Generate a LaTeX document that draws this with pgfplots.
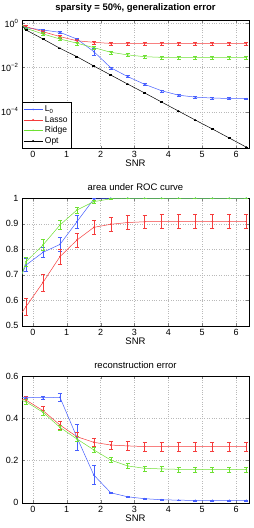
\documentclass[border=0pt]{standalone}
\usepackage{fontspec}
\setmainfont{Liberation Sans}
\usepackage{pgfplots}
\pgfplotsset{compat=1.18}
\definecolor{cBlue}{RGB}{70,95,255}
\definecolor{cRed}{RGB}{245,60,60}
\definecolor{cGreen}{RGB}{110,225,50}
\pgfplotsset{
  every axis/.append style={
    scale only axis, width=227pt,
    font=\fontsize{9.5}{11}\selectfont,
    tick label style={font=\fontsize{9}{10}\selectfont},
    xmin=-0.32, xmax=6.38,
    xtick={0,1,2,3,4,5,6},
    grid=major, major grid style={dotted, gray!55},
    tick align=inside, major tick length=2.5pt,
    /pgf/number format/assume math mode=true,
    xlabel={SNR},
    xlabel style={yshift=5pt},
    title style={yshift=-2pt},
    clip=true,
  },
  myplot/.style={mark=*, mark size=0.55pt, line width=0.5pt,
    error bars/y dir=both,
    error bars/error bar style={line width=0.5pt},
    error bars/error mark options={rotate=90, mark size=2pt, line width=0.5pt}},
}
\begin{document}
\begin{tikzpicture}
\useasboundingbox (0pt,0pt) rectangle (254pt,-528pt);
% ---------- panel 1 ----------
\begin{axis}[at={(22pt,-20pt)}, anchor=north west, height=128pt,
  ymode=log, ymin=2.29e-6, ymax=1.41,
  ytick={1,1e-2,1e-4}, yticklabels={10\textsuperscript{0},10\textsuperscript{−2},10\textsuperscript{−4}},
  minor ytick={},
  title={\bfseries sparsity = 50\%, generalization error},
  legend style={at={(0,0)}, anchor=south west, draw=black, inner sep=1.2pt, row sep=-1pt,
    font=\fontsize{8.5}{10}\selectfont},
  legend image code/.code={\draw[#1, mark repeat=2, mark phase=2] plot coordinates {(0pt,0pt) (9.5pt,0pt) (19pt,0pt)};},
  legend cell align=left,
  error bars/y explicit relative]
\addplot[myplot, cBlue] coordinates {
(-0.7,2.0) +- (0,0.05) (-0.2,0.63) +- (0,0.06) (0.3,0.50) +- (0,0.08) (0.8,0.39) +- (0,0.08)
(1.3,0.195) +- (0,0.1) (1.8,0.0525) +- (0,0.35) (2.3,0.00977) +- (0,0.1) (2.8,0.00389) +- (0,0.1)
(3.3,0.00174) +- (0,0.1) (3.8,8.91e-4) +- (0,0.1) (4.3,5.62e-4) +- (0,0.1) (4.8,4.57e-4) +- (0,0.1)
(5.3,4.17e-4) +- (0,0.1) (5.8,3.98e-4) +- (0,0.1) (6.3,3.89e-4) +- (0,0.1)};
\addlegendentry{L\textsubscript{0}}
\addplot[myplot, cRed] coordinates {
(-0.7,1.4) +- (0,0.1) (-0.2,0.708) +- (0,0.1) (0.3,0.417) +- (0,0.15) (0.8,0.251) +- (0,0.15)
(1.3,0.162) +- (0,0.15) (1.8,0.138) +- (0,0.15) (2.3,0.123) +- (0,0.15) (2.8,0.120) +- (0,0.15)
(3.3,0.120) +- (0,0.15) (3.8,0.120) +- (0,0.15) (4.3,0.120) +- (0,0.15) (4.8,0.120) +- (0,0.15)
(5.3,0.120) +- (0,0.15) (5.8,0.120) +- (0,0.15) (6.3,0.120) +- (0,0.15)};
\addlegendentry{Lasso}
\addplot[myplot, cGreen] coordinates {
(-0.7,2.5) +- (0,0.1) (-0.2,0.589) +- (0,0.1) (0.3,0.331) +- (0,0.15) (0.8,0.195) +- (0,0.15)
(1.3,0.126) +- (0,0.15) (1.8,0.0794) +- (0,0.15) (2.3,0.049) +- (0,0.15) (2.8,0.0372) +- (0,0.15)
(3.3,0.0309) +- (0,0.15) (3.8,0.0288) +- (0,0.15) (4.3,0.0288) +- (0,0.15) (4.8,0.0288) +- (0,0.15)
(5.3,0.0288) +- (0,0.15) (5.8,0.0288) +- (0,0.15) (6.3,0.0288) +- (0,0.15)};
\addlegendentry{Ridge}
\addplot[myplot, black, error bars/error mark options={rotate=90, mark size=1.5pt, line width=0.4pt}] coordinates {
(-0.7,3.3) +- (0,0.04) (-0.2,0.50) +- (0,0.04) (0.3,0.195) +- (0,0.04) (0.8,0.0741) +- (0,0.04)
(1.3,0.0309) +- (0,0.04) (1.8,0.0117) +- (0,0.04) (2.3,0.00457) +- (0,0.04) (2.8,0.00178) +- (0,0.04)
(3.3,7.08e-4) +- (0,0.04) (3.8,2.75e-4) +- (0,0.04) (4.3,1.07e-4) +- (0,0.04) (4.8,4.17e-5) +- (0,0.04)
(5.3,1.66e-5) +- (0,0.04) (5.8,6.46e-6) +- (0,0.04) (6.3,2.51e-6) +- (0,0.04)};
\addlegendentry{Opt}
\end{axis}
% ---------- panel 2 ----------
\begin{axis}[at={(22pt,-198.3pt)}, anchor=north west, height=127.4pt,
  ymin=0.5, ymax=1, ytick={0.5,0.6,0.7,0.8,0.9,1},
  title={area under ROC curve},
  error bars/y explicit]
\addplot[myplot, cBlue] coordinates {
(-0.7,0.59) +- (0,0.025) (-0.2,0.738) +- (0,0.025) (0.3,0.788) +- (0,0.02) (0.8,0.819) +- (0,0.028)
(1.3,0.908) +- (0,0.025) (1.8,0.997) +- (0,0.004) (2.3,1.0) +- (0,0.002) (2.8,1.0) +- (0,0.001)
(3.3,1.0) +- (0,0.001) (3.8,1.0) +- (0,0.001) (4.3,1.0) +- (0,0.001) (4.8,1.0) +- (0,0.001)
(5.3,1.0) +- (0,0.001) (5.8,1.0) +- (0,0.001) (6.3,1.0) +- (0,0.001)};
\addplot[myplot, cRed] coordinates {
(-0.7,0.48) +- (0,0.03) (-0.2,0.575) +- (0,0.033) (0.3,0.670) +- (0,0.033) (0.8,0.771) +- (0,0.03)
(1.3,0.836) +- (0,0.028) (1.8,0.886) +- (0,0.027) (2.3,0.898) +- (0,0.027) (2.8,0.905) +- (0,0.027)
(3.3,0.908) +- (0,0.027) (3.8,0.909) +- (0,0.027) (4.3,0.909) +- (0,0.027) (4.8,0.909) +- (0,0.028)
(5.3,0.909) +- (0,0.027) (5.8,0.909) +- (0,0.027) (6.3,0.909) +- (0,0.027)};
\addplot[myplot, cGreen] coordinates {
(-0.7,0.55) +- (0,0.02) (-0.2,0.751) +- (0,0.018) (0.3,0.817) +- (0,0.022) (0.8,0.895) +- (0,0.017)
(1.3,0.954) +- (0,0.012) (1.8,0.987) +- (0,0.007) (2.3,0.998) +- (0,0.002) (2.8,1.0) +- (0,0.001)
(3.3,1.0) +- (0,0.001) (3.8,1.0) +- (0,0.001) (4.3,1.0) +- (0,0.001) (4.8,1.0) +- (0,0.001)
(5.3,1.0) +- (0,0.001) (5.8,1.0) +- (0,0.001) (6.3,1.0) +- (0,0.001)};
\end{axis}
% ---------- panel 3 ----------
\begin{axis}[at={(22pt,-376pt)}, anchor=north west, height=126.7pt,
  ymin=0, ymax=0.6, ytick={0,0.2,0.4,0.6},
  title={reconstruction error},
  error bars/y explicit]
\addplot[myplot, cBlue] coordinates {
(-0.7,0.50) +- (0,0.005) (-0.2,0.499) +- (0,0.005) (0.3,0.497) +- (0,0.005) (0.8,0.499) +- (0,0.018)
(1.3,0.31) +- (0,0.06) (1.8,0.131) +- (0,0.045) (2.3,0.047) +- (0,0.004) (2.8,0.028) +- (0,0.002)
(3.3,0.019) +- (0,0.002) (3.8,0.014) +- (0,0.002) (4.3,0.012) +- (0,0.002) (4.8,0.011) +- (0,0.002)
(5.3,0.011) +- (0,0.002) (5.8,0.011) +- (0,0.002) (6.3,0.011) +- (0,0.002)};
\addplot[myplot, cRed] coordinates {
(-0.7,0.50) +- (0,0.02) (-0.2,0.486) +- (0,0.02) (0.3,0.436) +- (0,0.02) (0.8,0.368) +- (0,0.02)
(1.3,0.3125) +- (0,0.02) (1.8,0.286) +- (0,0.02) (2.3,0.273) +- (0,0.02) (2.8,0.269) +- (0,0.02)
(3.3,0.266) +- (0,0.02) (3.8,0.266) +- (0,0.02) (4.3,0.266) +- (0,0.02) (4.8,0.266) +- (0,0.02)
(5.3,0.266) +- (0,0.02) (5.8,0.266) +- (0,0.02) (6.3,0.266) +- (0,0.02)};
\addplot[myplot, cGreen] coordinates {
(-0.7,0.50) +- (0,0.012) (-0.2,0.478) +- (0,0.012) (0.3,0.428) +- (0,0.012) (0.8,0.357) +- (0,0.012)
(1.3,0.302) +- (0,0.012) (1.8,0.25) +- (0,0.012) (2.3,0.202) +- (0,0.012) (2.8,0.174) +- (0,0.012)
(3.3,0.163) +- (0,0.012) (3.8,0.160) +- (0,0.012) (4.3,0.158) +- (0,0.012) (4.8,0.158) +- (0,0.012)
(5.3,0.158) +- (0,0.012) (5.8,0.158) +- (0,0.012) (6.3,0.158) +- (0,0.012)};
\end{axis}
\end{tikzpicture}
\end{document}
